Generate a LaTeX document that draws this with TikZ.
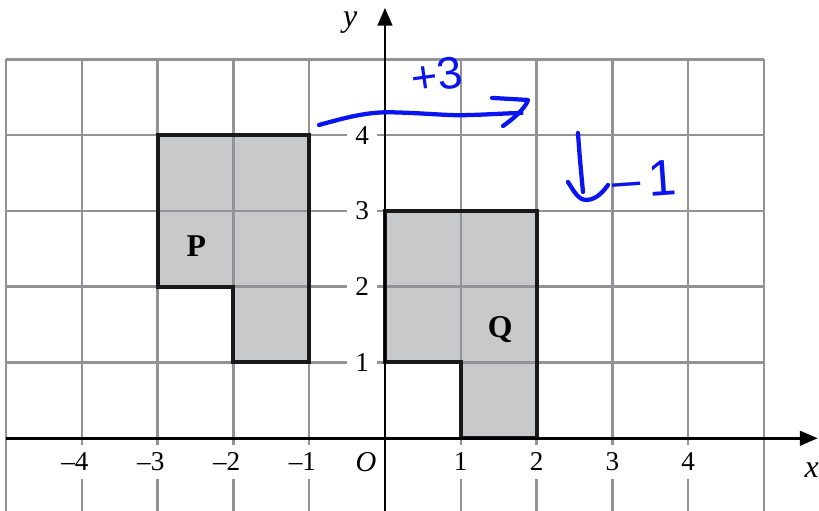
\documentclass[tikz,border=0pt]{standalone}
\usepackage{fontspec}
\setmainfont{Liberation Serif}
\newfontfamily\handfont{Liberation Sans}
\usetikzlibrary{arrows.meta}
\definecolor{gridgray}{HTML}{939397}
\definecolor{shapegray}{HTML}{C8C9CB}
\definecolor{pen}{HTML}{0A14F0}
\begin{document}
\begin{tikzpicture}[
  gridline/.style={gridgray, line width=0.95pt},
  axis/.style={black, line width=1.1pt, -{Triangle[length=6.7pt,width=5.4pt]}},
  region/.style={black!90, line width=1.5pt, line join=miter},
  tick/.style={fill=white, inner xsep=3pt, inner ysep=3pt, font=\fontsize{10.2}{12}\selectfont},
  axlabel/.style={font=\fontsize{12}{14}\selectfont\itshape},
  shapelabel/.style={font=\fontsize{11.9}{14}\selectfont\bfseries},
  penline/.style={pen, line width=1.6pt, line cap=round, line join=round},
  pentext/.style={pen, inner sep=0pt}
]
\useasboundingbox (-5.079,-0.959) rectangle (5.726,5.782);
% shaded regions
\fill[shapegray] (-3,2) -- (-3,4) -- (-1,4) -- (-1,1) -- (-2,1) -- (-2,2) -- cycle;
\fill[shapegray] (0,1) -- (0,3) -- (2,3) -- (2,0) -- (1,0) -- (1,1) -- cycle;
% grid
\foreach \x in {-5,...,5} \draw[gridline] (\x,-0.97) -- (\x,5);
\foreach \y in {1,...,5} \draw[gridline] (-5,\y) -- (5,\y);
% borders
\draw[region] (-3,2) -- (-3,4) -- (-1,4) -- (-1,1) -- (-2,1) -- (-2,2) -- cycle;
\draw[region] (0,1) -- (0,3) -- (2,3) -- (2,0) -- (1,0) -- (1,1) -- cycle;
% axes
\coordinate (xs) at (-5,0);
\coordinate (xe) at (5.71,0);
\coordinate (ys) at (0,-0.97);
\coordinate (ye) at (0,5.68);
\draw[axis] (xs) -- (xe);
\draw[axis] (ys) -- (ye);
% tick labels
\node[tick] (xn4) at (-4,-0.31) {\llap{–}4};
\node[tick] (xn3) at (-3,-0.31) {\llap{–}3};
\node[tick] (xn2) at (-2,-0.31) {\llap{–}2};
\node[tick] (xn1) at (-1,-0.31) {\llap{–}1};
\node[tick] (xp1) at (1,-0.31) {1};
\node[tick] (xp2) at (2,-0.31) {2};
\node[tick] (xp3) at (3,-0.31) {3};
\node[tick] (xp4) at (4,-0.31) {4};
\node[tick] (yp1) at (-0.30,1) {1};
\node[tick] (yp2) at (-0.30,2) {2};
\node[tick] (yp3) at (-0.30,3) {3};
\node[tick] (yp4) at (-0.30,4) {4};
\node[tick, fill=none, font=\fontsize{10.8}{12}\selectfont\itshape] (origin) at (-0.25,-0.31) {O};
\node[axlabel] (xlab) at (5.63,-0.42) {x};
\node[axlabel] (ylab) at (-0.46,5.49) {y};
% region labels
\node[shapelabel] (P) at (-2.49,2.53) {P};
\node[shapelabel] (Q) at (1.52,1.43) {Q};
% handwritten annotations
\draw[penline] (-0.871,4.133) .. controls (-0.55,4.22) and (-0.25,4.31) .. (0.1,4.30)
  .. controls (0.5,4.29) and (0.8,4.26) .. (1.0,4.262)
  .. controls (1.3,4.265) and (1.6,4.29) .. (1.8,4.29);
\draw[penline] (1.412,4.490) -- (1.887,4.463) .. controls (1.85,4.35) and (1.7,4.22) .. (1.557,4.120);
\node[pentext, rotate=8, font=\handfont\fontsize{17}{19}\selectfont] (plus3) at (0.686,4.79) {+3};
\draw[penline] (2.546,4.027) .. controls (2.57,3.7) .. (2.612,3.249);
\draw[penline] (2.414,3.381) .. controls (2.5,3.25) and (2.55,3.14) .. (2.665,3.144)
  .. controls (2.8,3.15) and (2.9,3.28) .. (2.942,3.342);
\node[pentext, rotate=4, font=\handfont\fontsize{19}{21}\selectfont] (minus1) at (3.417,3.42) {–\hspace{3pt}1};
\end{tikzpicture}
\end{document}
